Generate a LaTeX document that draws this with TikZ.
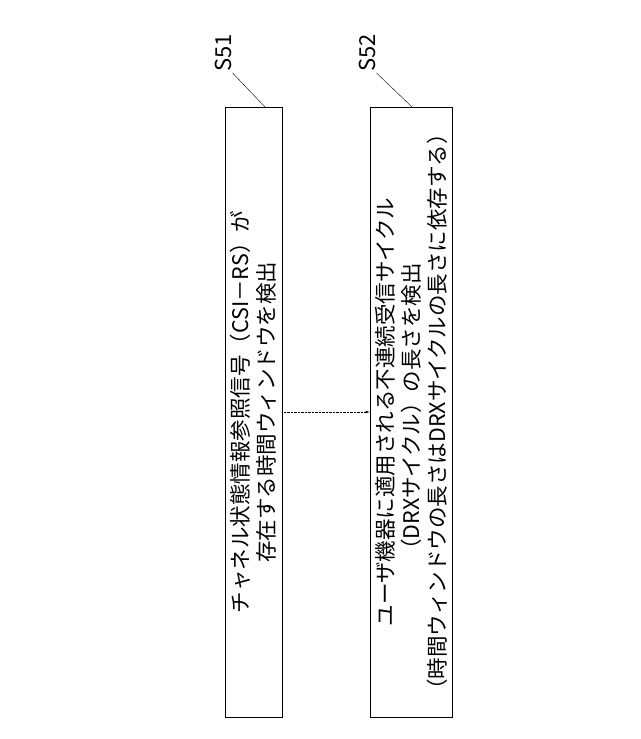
\documentclass[tikz,border=0pt]{standalone}
\usepackage{fontspec}
\setmainfont{Noto Sans CJK JP}
\begin{document}
\begin{tikzpicture}[x=1pt,y=-1pt,
  box/.style={draw,line width=0.8pt},
  txt/.style={rotate=90,align=center,font=\fontsize{21.5}{26}\selectfont},
  lbl/.style={rotate=90,font=\fontsize{22}{22}\selectfont,anchor=west,inner sep=1pt}]
\useasboundingbox (0,0) rectangle (640,739);
\node[box,minimum width=57,minimum height=610,inner sep=0] (b1) at (253.5,412) {};
\node[box,minimum width=82,minimum height=610,inner sep=0] (b2) at (411,412) {};
\node[txt] at (b1.center) {チャネル状態情報参照信号（CSI－RS）が\\存在する時間ウィンドウを検出};
\node[txt] at (b2.center) {ユーザ機器に適用される不連続受信サイクル\\（DRXサイクル）の長さを検出\\（時間ウィンドウの長さはDRXサイクルの長さに依存する）};
\draw[densely dotted,-latex] (b1.east |- 0,412) -- (b2.west |- 0,412);
\node[lbl] (s1) at (223,73) {S51};
\node[lbl] (s2) at (367,73) {S52};
\coordinate (c1) at (265,107);
\coordinate (c2) at (412,107);
\draw (s1.south west) -- (c1);
\draw (s2.south west) -- (c2);
\end{tikzpicture}
\end{document}
